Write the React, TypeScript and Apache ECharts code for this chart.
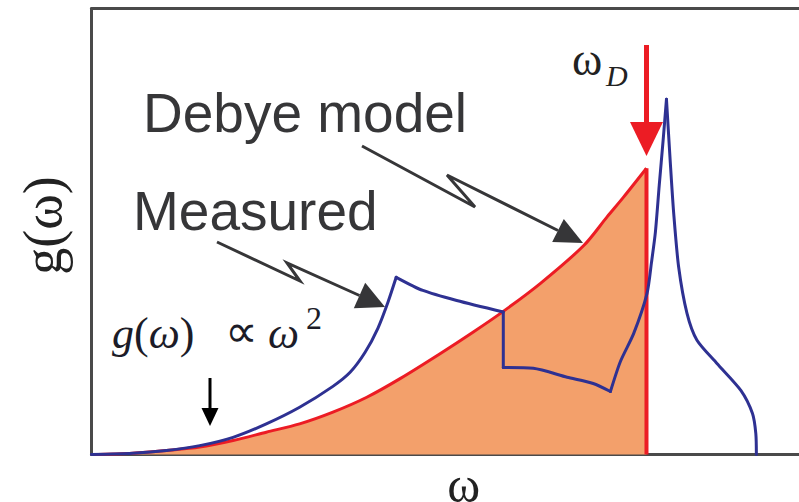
import React, { useEffect, useRef } from "react";
import * as echarts from "echarts";

// ω in units of ω_D, g(ω) in units of the Debye value at ω_D
const debyeOmega = [0, 0.074, 0.135, 0.195, 0.255, 0.315, 0.375, 0.435, 0.496, 0.556, 0.628, 0.688, 0.742, 0.809, 0.887, 0.929, 0.959, 1.0];
const debyeG = [0, 0.0045, 0.014, 0.026, 0.049, 0.078, 0.107, 0.148, 0.2, 0.265, 0.352, 0.428, 0.5, 0.598, 0.73, 0.83, 0.9, 1.0];
const debyeCutOmega = [1.0, 1.0];
const debyeCutG = [1.0, 0];

// Measured density of states, split at its sharp corners
const riseOmega = [0, 0.074, 0.135, 0.195, 0.255, 0.315, 0.375, 0.435, 0.466, 0.493, 0.516, 0.534, 0.549];
const riseG = [0, 0.0045, 0.014, 0.031, 0.06, 0.107, 0.165, 0.238, 0.287, 0.357, 0.441, 0.531, 0.619];
const slopeOmega = [0.549, 0.597, 0.658, 0.742];
const slopeG = [0.619, 0.573, 0.538, 0.498];
const stepOmega = [0.742, 0.742];
const stepG = [0.498, 0.304];
const dipOmega = [0.742, 0.796, 0.857, 0.904, 0.935];
const dipG = [0.304, 0.301, 0.27, 0.248, 0.22];
const spikeUpOmega = [0.935, 0.953, 0.977, 1.001, 1.009, 1.016, 1.023, 1.03, 1.036];
const spikeUpG = [0.22, 0.325, 0.423, 0.563, 0.671, 0.776, 0.941, 1.098, 1.241];
const spikeDownOmega = [1.036, 1.043, 1.049, 1.058, 1.073, 1.091, 1.127, 1.17, 1.191, 1.197, 1.198];
const spikeDownG = [1.241, 1.017, 0.843, 0.654, 0.493, 0.399, 0.318, 0.224, 0.143, 0.073, 0];

const X_MAX = 1.2748;
const Y_MAX = 1.558;

const RED = "#ec1c24";
const BLUE = "#2e3192";
const ORANGE = "#f3a06b";
const DARK = "#363638";
const AXIS = "#4a4a4a";

const pairs = (xs: number[], ys: number[]) => xs.map((x, i) => [x, ys[i]]);

const measuredSegments = [
  pairs(riseOmega, riseG),
  pairs(slopeOmega, slopeG),
  pairs(stepOmega, stepG),
  pairs(dipOmega, dipG),
  pairs(spikeUpOmega, spikeUpG),
  pairs(spikeDownOmega, spikeDownG),
];

const serif = "Liberation Serif";
const sans = "Liberation Sans";

function txt(text: string, x: number, y: number, size: number, family: string, color: string, extra: any = {}) {
  return {
    type: "text",
    x,
    y,
    z: 100,
    style: {
      text,
      fontSize: size,
      fontFamily: family,
      fill: color,
      align: "left",
      verticalAlign: "middle",
      textAlign: "left",
      textVerticalAlign: "middle",
      ...extra,
    },
  };
}

const option: any = {
  animation: false,
  backgroundColor: "#ffffff",
  grid: { left: 91.5, right: 0, top: 8.5, bottom: 47.5, containLabel: false, outerBoundsMode: "none" },
  xAxis: [
    {
      type: "value",
      min: 0,
      max: X_MAX,
      name: "ω",
      nameLocation: "middle",
      nameGap: 12,
      nameTextStyle: { fontFamily: serif, fontSize: 50, lineHeight: 36, color: "#222", padding: [0, 0, 0, 37] },
      axisLine: { show: true, lineStyle: { color: AXIS, width: 3 } },
      axisTick: { show: false },
      axisLabel: { show: false },
      splitLine: { show: false },
    },
    {
      type: "value",
      position: "top",
      min: 0,
      max: X_MAX,
      axisLine: { show: true, lineStyle: { color: AXIS, width: 3 } },
      axisTick: { show: false },
      axisLabel: { show: false },
      splitLine: { show: false },
    },
  ],
  yAxis: {
    type: "value",
    min: 0,
    max: Y_MAX,
    name: "g(ω)",
    nameLocation: "middle",
    nameRotate: 90,
    nameGap: 22,
    nameTextStyle: { fontFamily: serif, fontSize: 54, color: "#222", padding: [0, 0, 0, 12] },
    axisLine: { show: true, lineStyle: { color: AXIS, width: 3 } },
    axisTick: { show: false },
    axisLabel: { show: false },
    splitLine: { show: false },
  },
  series: [
    {
      name: "Debye model",
      type: "line",
      xAxisIndex: 0,
      data: pairs(debyeOmega, debyeG),
      smooth: 0.3,
      showSymbol: false,
      lineStyle: { color: RED, width: 3 },
      areaStyle: { color: ORANGE, opacity: 1 },
      z: 2,
    },
    {
      name: "Debye cut-off",
      type: "line",
      xAxisIndex: 0,
      data: pairs(debyeCutOmega, debyeCutG),
      showSymbol: false,
      lineStyle: { color: RED, width: 4 },
      z: 3,
    },
    ...measuredSegments.map((seg) => ({
      name: "Measured",
      type: "line",
      xAxisIndex: 0,
      data: seg,
      smooth: 0.25,
      showSymbol: false,
      lineStyle: { color: BLUE, width: 3, cap: "round", join: "round" },
      z: 4,
    })),
  ],
  graphic: [
    txt("Debye model", 143, 113, 55, sans, DARK),
    txt("Measured", 133, 211, 55, sans, DARK),
    // Debye model arrow
    {
      type: "polyline",
      z: 100,
      shape: { points: [[362, 146], [475, 207], [447, 175], [558, 230.5]] },
      style: { stroke: DARK, lineWidth: 3, fill: null, lineJoin: "miter", miterLimit: 4 },
    },
    { type: "polygon", z: 100, shape: { points: [[583, 243], [552.2, 242.1], [563.8, 218.9]] }, style: { fill: DARK } },
    // Measured arrow
    {
      type: "polyline",
      z: 100,
      shape: { points: [[217, 242], [300, 281], [287, 263], [359.5, 295.5]] },
      style: { stroke: DARK, lineWidth: 3, fill: null, lineJoin: "miter", miterLimit: 4 },
    },
    { type: "polygon", z: 100, shape: { points: [[385, 307], [353.8, 308.3], [365.2, 282.7]] }, style: { fill: DARK } },
    // ω_D arrow
    { type: "line", z: 100, shape: { x1: 646.5, y1: 45, x2: 646.5, y2: 128 }, style: { stroke: RED, lineWidth: 5 } },
    { type: "polygon", z: 100, shape: { points: [[630, 122], [663, 122], [646.5, 156]] }, style: { fill: RED } },
    txt("ω", 572, 59.5, 46, serif, "#222"),
    txt("D", 606, 75, 30, serif, "#222", { fontStyle: "italic" }),
    // low-frequency arrow
    { type: "line", z: 100, shape: { x1: 210, y1: 378, x2: 210, y2: 412 }, style: { stroke: "#000", lineWidth: 3 } },
    { type: "polygon", z: 100, shape: { points: [[201.5, 408], [218.5, 408], [210, 426]] }, style: { fill: "#000" } },
    // g(ω) ∝ ω²
    {
      type: "text",
      x: 112,
      y: 333,
      z: 100,
      style: {
        text: "{i|g}{r|(}{i|ω}{r|)}",
        fill: "#1c1c28",
        align: "left",
        verticalAlign: "middle",
        textAlign: "left",
        textVerticalAlign: "middle",
        rich: {
          i: { fontFamily: serif, fontSize: 44, fontStyle: "italic", fill: "#1c1c28" },
          r: { fontFamily: serif, fontSize: 44, fill: "#1c1c28" },
        },
      },
    },
    txt("∝", 225, 331, 46, serif, "#1c1c28"),
    txt("ω", 268, 333, 44, serif, "#1c1c28", { fontStyle: "italic" }),
    txt("2", 306, 318, 32, serif, "#1c1c28"),
  ],
};

export default function App() {
  const ref = useRef<HTMLDivElement>(null);
  useEffect(() => {
    const chart = echarts.init(ref.current!, null, { renderer: "svg" });
    chart.setOption(option);
    return () => chart.dispose();
  }, []);
  return (
    <div
      ref={ref}
      style={{ position: "fixed", left: 0, top: 0, width: 799, height: 502, background: "#fff" }}
    />
  );
}
